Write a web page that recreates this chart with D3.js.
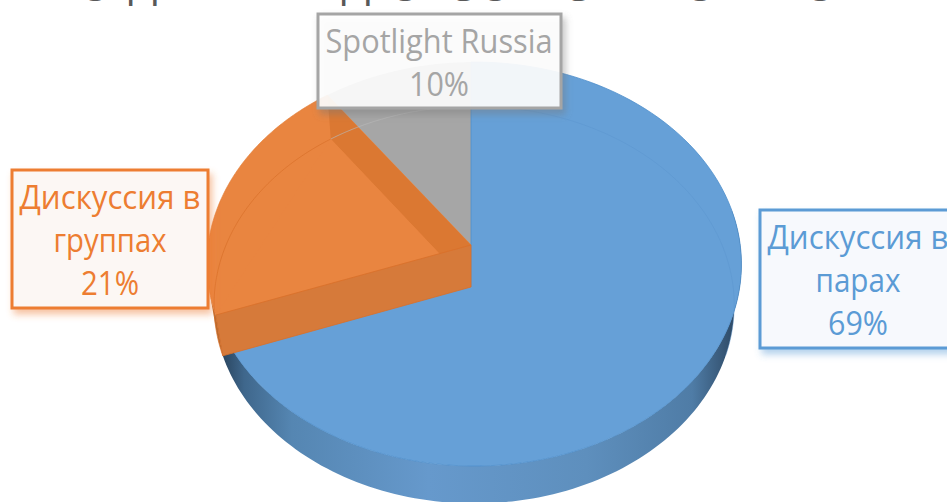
<!DOCTYPE html>
<html><head><meta charset="utf-8">
<script src="https://cdn.jsdelivr.net/npm/d3@7/dist/d3.min.js"></script>
<style>html,body{margin:0;padding:0;background:#fff;overflow:hidden}svg{display:block}</style>
</head><body><svg id="c" width="947" height="502"></svg>
<script>
const categories = ["Дискуссия в парах", "Дискуссия в группах", "Spotlight Russia"];
const values = [69, 21, 10];
const labelLines = [["Дискуссия в", "парах", "69%"], ["Дискуссия в", "группах", "21%"], ["Spotlight Russia", "10%"]];
const colors = ["#66A0D7", "#E98540", "#A6A6A6"];
const titleLetters = ["О", "Д", "Д", "О", "С", "О", "С", "О", "О"];

const svg = d3.select("#c");
const defs = svg.append("defs");
["#5B9BD5", "#ED7D31", "#777777"].forEach((col, i) => {
  defs.append("filter").attr("id", "sh" + i).attr("x", "-10%").attr("y", "-10%").attr("width", "125%").attr("height", "130%")
    .append("feDropShadow").attr("dx", 3).attr("dy", 5).attr("stdDeviation", 3.5).attr("flood-color", col).attr("flood-opacity", 0.45);
});

const sideGrad = defs.append("linearGradient").attr("id", "side").attr("gradientUnits", "userSpaceOnUse")
  .attr("x1", 218).attr("x2", 745).attr("y1", 0).attr("y2", 0);
[[0, "#263F57"], [0.05, "#3F678C"], [0.14, "#5586B2"], [0.4, "#6699CC"], [0.7, "#5E8FBD"], [0.9, "#4F7CA6"], [0.98, "#2E4A66"], [1, "#24394F"]]
  .forEach(d => sideGrad.append("stop").attr("offset", d[0]).attr("stop-color", d[1]));

// perspective disc: angle (radians, clockwise from top) -> screen point
const upper = {x: 471, y: 245, k: 266, m: -200.2, c: 0.0941, g: -0.012};
const lower = {x: 471, y: 287, k: 259, m: -197, c: 0.09, g: -0.012};
function P(L, a) {
  const w = a + 0.04 * Math.sin(a / 2) ** 2;
  const u = Math.sin(w), v = Math.cos(w), D = 1 + L.c * v + L.g * u;
  return [L.x + L.k * u / D, L.y + L.m * v / D];
}
function arcPts(L, a0, a1) {
  const s = d3.scaleLinear().domain([0, 120]).range([a0, a1]);
  return d3.range(121).map(i => P(L, s(i)));
}
const line = d3.line();
const arcs = d3.pie().sort(null)(values);
const [blue, orange, gray] = arcs;
const apex = L => [L.x, L.y];

const g = svg.append("g");
// blue outer wall
const frontEnd = Math.PI * 0.44;
g.append("path").attr("d", line([...arcPts(upper, frontEnd, blue.endAngle), ...arcPts(lower, blue.endAngle, frontEnd)]) + "Z")
  .attr("fill", "url(#side)");
// orange outer wall sliver
g.append("path").attr("d", line([...arcPts(upper, orange.startAngle, orange.startAngle + 0.12), ...arcPts(lower, orange.startAngle + 0.12, orange.startAngle)]) + "Z")
  .attr("fill", "#B96A2E");
// gray top
g.append("path").attr("d", line([apex(upper), ...arcPts(upper, gray.startAngle, gray.endAngle)]) + "Z").attr("fill", colors[2]);
// blue top
g.append("path").attr("d", line([apex(upper), ...arcPts(upper, blue.startAngle, blue.endAngle)]) + "Z")
  .attr("fill", colors[0]).attr("stroke", "#4F8FCB").attr("stroke-width", 0.8);
g.append("path").attr("d", line([apex(upper), apex(lower)])).attr("stroke", "#5B8FC4").attr("stroke-width", 0.8);
// orange top
g.append("path").attr("d", line([apex(upper), ...arcPts(upper, orange.startAngle, orange.endAngle)]) + "Z")
  .attr("fill", colors[1]).attr("stroke", "#E07B33").attr("stroke-width", 0.6);
// orange back wall, seen through the face
g.append("path").attr("d", line([apex(upper), P(upper, orange.endAngle), P(lower, orange.endAngle), apex(lower)]) + "Z")
  .attr("fill", "#DB7832");
// face area below the wall
g.append("path").attr("d", line([apex(lower), P(lower, orange.endAngle), P(upper, orange.startAngle)]) + "Z")
  .attr("fill", colors[1]);
// orange front wall
g.append("path").attr("d", line([apex(upper), P(upper, orange.startAngle), P(lower, orange.startAngle), apex(lower)]) + "Z")
  .attr("fill", "#D67A3A").attr("stroke", "#D9702A").attr("stroke-width", 0.8);
// see-through rear rim of the lower disc
g.append("path").attr("d", line(arcPts(lower, Math.PI * 0.02, Math.PI * 0.6))).attr("fill", "none").attr("stroke", "#5A93CC").attr("stroke-width", 0.7).attr("opacity", 0.6);
g.append("path").attr("d", line(arcPts(lower, orange.startAngle, orange.endAngle))).attr("fill", "none").attr("stroke", "#D9702A").attr("stroke-width", 0.7);
g.append("path").attr("d", line(arcPts(lower, gray.startAngle, gray.endAngle))).attr("fill", "none").attr("stroke", "#B8B8B8").attr("stroke-width", 0.7);

// clipped title remnants at the very top edge
const titleX = [95, 143, 356, 405, 460, 495, 575, 700, 820];
titleLetters.forEach((t, i) => {
  svg.append("text").attr("x", titleX[i]).attr("y", t === "Д" ? -2 : 1).attr("text-anchor", "middle")
    .attr("font-family", "'Open Sans', sans-serif").attr("font-size", 42).attr("fill", "#595959").text(t);
});

// labels
const boxes = [
  {x: 760, y: 210, w: 200, h: 138, col: "#5B9BD5", fill: "#F7F9FD", op: 1, sh: 0},
  {x: 12, y: 170, w: 196, h: 138, col: "#ED7D31", fill: "#FCF7F4", op: 1, sh: 1},
  {x: 318, y: 14, w: 243, h: 94, col: "#A5A5A5", fill: "#FFFFFF", op: .9, sh: 2},
];
const textW = [[181, 85, 60], [181, 113, 58], [227, 60]];
const textCx = [858, 110, 439];
labelLines.forEach((lines, i) => {
  const b = boxes[i];
  svg.append("rect").attr("x", b.x).attr("y", b.y).attr("width", b.w).attr("height", b.h)
    .attr("fill", b.fill).attr("fill-opacity", b.op).attr("stroke", b.col).attr("stroke-width", 3).attr("filter", `url(#sh${b.sh})`);
  lines.forEach((t, j) => {
    svg.append("text").attr("x", textCx[i]).attr("y", b.y + 39 + j * 43).attr("text-anchor", "middle")
      .attr("font-family", "'Open Sans', sans-serif").attr("font-size", 33).attr("fill", b.col)
      .attr("textLength", textW[i][j]).attr("lengthAdjust", "spacingAndGlyphs").text(t);
  });
});
</script></body></html>
